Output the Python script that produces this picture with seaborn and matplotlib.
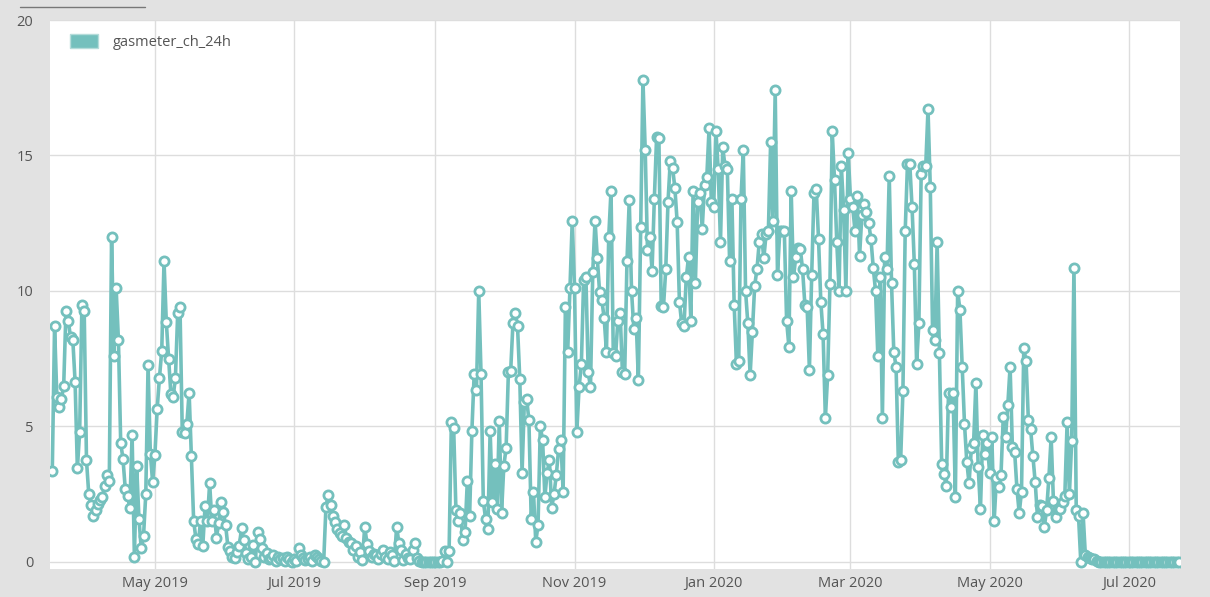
import numpy as np
import pandas as pd
import matplotlib
matplotlib.use("Agg")
import matplotlib.pyplot as plt
import matplotlib.dates as mdates
from matplotlib.patches import Patch
from matplotlib.lines import Line2D
import seaborn as sns

# daily gas meter readings
mar_2019 = [3.35, 8.7, 6.1, 5.7, 6.0, 6.5, 9.25, 8.9, 8.3, 8.2, 6.65, 3.45, 4.8, 9.5, 9.25]
apr_2019 = [3.75, 2.5, 2.1, 1.7, 1.9, 2.15, 2.3, 2.4, 2.8, 3.2, 3.0, 12.0, 7.6, 10.1, 8.2,
            4.4, 3.8, 2.7, 2.45, 2.0, 4.7, 0.2, 3.55, 1.6, 0.5, 0.95, 2.5, 7.25, 4.0, 2.95]
may_2019 = [3.95, 5.66, 6.8, 7.8, 11.1, 8.85, 7.5, 6.2, 6.1, 6.8, 9.2, 9.4, 4.8, 4.75, 5.1,
            6.25, 3.9, 1.5, 0.85, 0.65, 1.5, 0.6, 2.05, 1.5, 2.9, 1.5, 1.9, 0.9, 1.45, 2.2, 1.85]
jun_2019 = [1.36, 0.57, 0.4, 0.2, 0.15, 0.38, 0.6, 1.25, 0.81, 0.34, 0.1, 0.2, 0.63, 0.01, 1.12,
            0.85, 0.5, 0.2, 0.33, 0.1, 0.15, 0.26, 0.05, 0.2, 0.1, 0.15, 0.05, 0.2, 0.1, 0.0]
jul_2019 = [0.1, 0.05, 0.5, 0.26, 0.15, 0.07, 0.1, 0.2, 0.05, 0.26, 0.2, 0.1, 0.05, 0.0, 2.03,
            2.47, 2.1, 1.7, 1.49, 1.2, 1.06, 0.94, 1.37, 0.9, 0.75, 0.7, 0.44, 0.6, 0.2, 0.35, 0.08]
aug_2019 = [1.3, 0.68, 0.4, 0.2, 0.3, 0.26, 0.1, 0.3, 0.44, 0.2, 0.1, 0.35, 0.26, 0.05, 1.3,
            0.7, 0.44, 0.07, 0.3, 0.15, 0.1, 0.44, 0.7, 0.15, 0.05, 0.0, 0.0, 0.0, 0.0, 0.0, 0.0]
sep_2019 = [0.0, 0.0, 0.0, 0.05, 0.4, 0.0, 0.4, 5.15, 4.95, 1.9, 1.5, 1.8, 0.8, 1.1, 3.0,
            1.7, 4.85, 6.95, 6.35, 10.0, 6.95, 2.25, 1.6, 1.2, 4.85, 2.2, 3.6, 1.95, 5.2, 1.8]
oct_2019 = [3.55, 4.2, 7.0, 7.05, 8.8, 9.2, 8.7, 6.75, 3.3, 5.9, 6.0, 5.25, 1.6, 2.6, 0.75,
            1.35, 5.0, 4.5, 2.4, 3.3, 3.75, 2.0, 2.5, 3.2, 4.15, 4.5, 2.6, 9.4, 7.75, 10.1, 12.6]
nov_2019 = [10.1, 4.8, 6.45, 7.3, 10.4, 10.5, 7.0, 6.45, 10.7, 12.6, 11.2, 9.95, 9.65, 9.0, 7.75,
            12.0, 13.7, 7.7, 7.6, 8.9, 9.2, 7.0, 6.95, 11.1, 13.35, 10.0, 8.6, 9.0, 6.7, 12.35]
dec_2019 = [17.8, 15.2, 11.5, 12.0, 10.75, 13.4, 15.7, 15.65, 9.45, 9.4, 10.8, 13.3, 14.8, 14.55, 13.8,
            12.55, 9.6, 8.8, 8.7, 10.5, 11.25, 8.9, 13.7, 10.3, 13.3, 13.6, 12.3, 13.9, 14.2, 16.0, 13.3]
jan_2020 = [13.1, 15.9, 14.5, 11.8, 15.3, 14.6, 14.5, 11.1, 13.4, 9.5, 7.3, 7.4, 13.4, 15.2, 10.0,
            8.8, 6.9, 8.5, 10.2, 10.8, 11.8, 12.1, 11.2, 12.1, 12.2, 15.5, 12.6, 17.4, 10.6, 12.2, 12.2]
feb_2020 = [12.2, 8.9, 7.95, 13.7, 10.5, 11.25, 11.6, 11.55, 10.8, 9.5, 9.4, 7.1, 10.6, 13.6, 13.75,
            11.9, 9.6, 8.4, 5.3, 6.9, 10.25, 15.9, 14.1, 11.8, 10.0, 14.6, 13.0, 10.0, 15.1]
mar_2020 = [13.4, 13.1, 12.2, 13.5, 11.3, 12.8, 13.2, 12.9, 12.5, 11.9, 10.85, 10.0, 7.6, 10.5, 5.3,
            11.25, 10.8, 14.25, 10.3, 7.75, 7.2, 3.7, 3.75, 6.3, 12.2, 14.7, 14.7, 13.1, 11.0, 7.3, 8.8]
apr_2020 = [14.3, 14.6, 14.6, 16.7, 13.85, 8.55, 8.2, 11.8, 7.7, 3.6, 3.25, 2.8, 6.25, 5.7, 6.25,
            2.4, 10.0, 9.3, 7.2, 5.1, 3.7, 2.9, 4.2, 4.4, 6.6, 3.5, 1.95, 4.7, 4.0, 4.4]
may_2020 = [3.3, 4.6, 1.5, 3.1, 2.75, 3.2, 5.35, 4.6, 5.8, 7.2, 4.25, 4.05, 2.7, 1.8, 2.6,
            7.9, 7.4, 5.25, 4.9, 3.9, 2.95, 1.65, 2.1, 2.05, 1.3, 1.9, 3.1, 4.6, 2.25, 1.65, 1.95]
jun_2020 = [1.95, 2.2, 2.45, 5.15, 2.5, 4.45, 10.85, 1.9, 1.7, 0.0, 1.8, 0.25, 0.2, 0.15, 0.1,
            0.1, 0.05, 0.0, 0.0, 0.0, 0.0, 0.0, 0.0, 0.0, 0.0, 0.0, 0.0, 0.0, 0.0, 0.0]
jul_2020 = [0.0, 0.0, 0.0, 0.0, 0.0, 0.0, 0.0, 0.0, 0.0, 0.0, 0.0, 0.0, 0.0, 0.0, 0.0,
            0.0, 0.0, 0.0, 0.0, 0.0, 0.0, 0.0, 0.0]

months = [mar_2019, apr_2019, may_2019, jun_2019, jul_2019, aug_2019, sep_2019, oct_2019,
          nov_2019, dec_2019, jan_2020, feb_2020, mar_2020, apr_2020, may_2020, jun_2020, jul_2020]
values = np.concatenate([np.asarray(m, dtype=float) for m in months])
dates = pd.date_range("2019-03-17", "2020-07-23", freq="D")
assert len(dates) == len(values), (len(dates), len(values))
df = pd.DataFrame({"date": dates, "value": values})

SERIES = "gasmeter_ch_24h"
TEAL = "#74c0bd"
TXT = "#555555"

sns.set_theme(style="white")
plt.rcParams["font.family"] = ["Open Sans", "DejaVu Sans"]

W, H = 1210, 597
fig = plt.figure(figsize=(W / 100, H / 100), dpi=100, facecolor="#e2e2e2")
ax = fig.add_axes([50 / W, 1 - 569 / H, 1130 / W, 549 / H])
ax.set_facecolor("white")

sns.lineplot(data=df, x="date", y="value", ax=ax, color=TEAL, linewidth=2.6,
             marker="o", markersize=6.6, markerfacecolor="white",
             markeredgecolor=TEAL, markeredgewidth=2.0, legend=False, zorder=3)

ax.set_xlim(dates[0] - pd.Timedelta(days=1.0), dates[-1] + pd.Timedelta(days=0.5))
ax.set_ylim(-0.26, 20)
ax.set_yticks([0, 5, 10, 15, 20])
ax.xaxis.set_major_locator(mdates.MonthLocator(bymonth=[1, 3, 5, 7, 9, 11]))
ax.xaxis.set_major_formatter(mdates.DateFormatter("%b %Y"))

ax.grid(True, color="#dddddd", linewidth=1.0)
ax.set_axisbelow(True)
for sp in ax.spines.values():
    sp.set_visible(False)
ax.tick_params(axis="both", length=0, labelsize=10.5, labelcolor=TXT)
ax.tick_params(axis="x", pad=5)
ax.tick_params(axis="y", pad=12)
ax.set_xlabel("")
ax.set_ylabel("")

handle = Patch(facecolor=TEAL, edgecolor="#b5dcda", linewidth=1.0, label=SERIES)
ax.legend(handles=[handle], loc="upper left", bbox_to_anchor=(0.009, 0.994),
          frameon=False, fontsize=10.5, labelcolor=TXT, handlelength=1.9,
          handleheight=1.2, handletextpad=1.0, borderaxespad=0.3)

# short tab underline at the top-left of the panel
fig.add_artist(Line2D([20 / W, 145 / W], [1 - 7 / H, 1 - 7 / H], color="#777777", linewidth=1.0))

fig.savefig("out.png", dpi=100, facecolor=fig.get_facecolor())
plt.close(fig)
